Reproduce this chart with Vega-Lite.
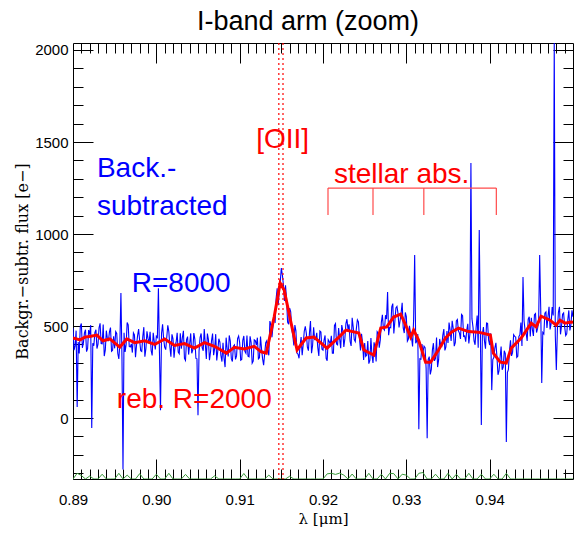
{
"$schema":"https://vega.github.io/schema/vega-lite/v6.json",
"width":500,"height":436,
"autosize":{"type":"none"},
"padding":{"left":73,"top":43,"right":1,"bottom":54},
"background":"white",
"title":{"text":"I-band arm (zoom)","font":"Liberation Sans","fontSize":27,"fontWeight":"normal","color":"#000","anchor":"middle","dx":-15,"baseline":"alphabetic","offset":-15},
"config":{"view":{"stroke":"#000","strokeWidth":1},"axis":{"grid":false,"domain":false,"tickColor":"#000","tickWidth":1,"labelColor":"#000","labelFont":"Liberation Sans","labelFontSize":15,"titleColor":"#000","titleFontWeight":"normal"}},
"datasets":{
"blue":[{"x":0.89,"f":490},{"x":0.89025,"f":392},{"x":0.8905,"f":60},{"x":0.89075,"f":351},{"x":0.891,"f":514},{"x":0.89125,"f":410},{"x":0.8915,"f":480},{"x":0.89175,"f":377},{"x":0.892,"f":454},{"x":0.89225,"f":-54},{"x":0.8925,"f":393},{"x":0.89275,"f":480},{"x":0.893,"f":401},{"x":0.89325,"f":515},{"x":0.8935,"f":404},{"x":0.89375,"f":337},{"x":0.894,"f":475},{"x":0.89425,"f":418},{"x":0.8945,"f":492},{"x":0.89475,"f":368},
{"x":0.895,"f":379},{"x":0.89525,"f":460},{"x":0.8955,"f":321},{"x":0.89575,"f":680},{"x":0.896,"f":-280},{"x":0.89625,"f":359},{"x":0.8965,"f":519},{"x":0.89675,"f":389},{"x":0.897,"f":403},{"x":0.89725,"f":463},{"x":0.8975,"f":331},{"x":0.89775,"f":448},{"x":0.898,"f":420},{"x":0.89825,"f":362},{"x":0.8985,"f":494},{"x":0.89875,"f":378},{"x":0.899,"f":433},{"x":0.89925,"f":469},{"x":0.8995,"f":340},{"x":0.89975,"f":416},
{"x":0.9,"f":445},{"x":0.90025,"f":706},{"x":0.9005,"f":43},{"x":0.90075,"f":509},{"x":0.901,"f":385},{"x":0.90125,"f":438},{"x":0.9015,"f":470},{"x":0.90175,"f":333},{"x":0.902,"f":431},{"x":0.90225,"f":390},{"x":0.9025,"f":463},{"x":0.90275,"f":350},{"x":0.903,"f":377},{"x":0.90325,"f":474},{"x":0.9035,"f":313},{"x":0.90375,"f":443},{"x":0.904,"f":402},{"x":0.90425,"f":352},{"x":0.9045,"f":462},{"x":0.90475,"f":324},
{"x":0.905,"f":16},{"x":0.90525,"f":437},{"x":0.9055,"f":383},{"x":0.90575,"f":484},{"x":0.906,"f":321},{"x":0.90625,"f":427},{"x":0.9065,"f":358},{"x":0.90675,"f":459},{"x":0.907,"f":379},{"x":0.90725,"f":313},{"x":0.9075,"f":431},{"x":0.90775,"f":340},{"x":0.908,"f":409},{"x":0.90825,"f":277},{"x":0.9085,"f":376},{"x":0.90875,"f":449},{"x":0.909,"f":323},{"x":0.90925,"f":391},{"x":0.9095,"f":319},{"x":0.90975,"f":432},
{"x":0.91,"f":410},{"x":0.91025,"f":318},{"x":0.9105,"f":446},{"x":0.91075,"f":352},{"x":0.911,"f":336},{"x":0.91125,"f":444},{"x":0.9115,"f":298},{"x":0.91175,"f":425},{"x":0.912,"f":396},{"x":0.91225,"f":322},{"x":0.9125,"f":443},{"x":0.91275,"f":323},{"x":0.913,"f":350},{"x":0.91325,"f":420},{"x":0.9135,"f":341},{"x":0.91375,"f":508},{"x":0.914,"f":500},{"x":0.91425,"f":517},{"x":0.9145,"f":705},{"x":0.91475,"f":690},
{"x":0.915,"f":815},{"x":0.91525,"f":723},{"x":0.9155,"f":721},{"x":0.91575,"f":522},{"x":0.916,"f":598},{"x":0.91625,"f":485},{"x":0.9165,"f":395},{"x":0.91675,"f":474},{"x":0.917,"f":347},{"x":0.91725,"f":397},{"x":0.9175,"f":342},{"x":0.91775,"f":472},{"x":0.918,"f":460},{"x":0.91825,"f":366},{"x":0.9185,"f":527},{"x":0.91875,"f":394},{"x":0.919,"f":427},{"x":0.91925,"f":463},{"x":0.9195,"f":338},{"x":0.91975,"f":468},
{"x":0.92,"f":369},{"x":0.92025,"f":449},{"x":0.9205,"f":311},{"x":0.92075,"f":416},{"x":0.921,"f":447},{"x":0.92125,"f":352},{"x":0.9215,"f":513},{"x":0.92175,"f":398},{"x":0.922,"f":429},{"x":0.92225,"f":505},{"x":0.9225,"f":387},{"x":0.92275,"f":513},{"x":0.923,"f":480},{"x":0.92325,"f":418},{"x":0.9235,"f":545},{"x":0.92375,"f":427},{"x":0.924,"f":485},{"x":0.92425,"f":523},{"x":0.9245,"f":367},{"x":0.92475,"f":408},
{"x":0.925,"f":408},{"x":0.92525,"f":342},{"x":0.9255,"f":296},{"x":0.92575,"f":435},{"x":0.926,"f":299},{"x":0.92625,"f":385},{"x":0.9265,"f":469},{"x":0.92675,"f":383},{"x":0.927,"f":520},{"x":0.92725,"f":487},{"x":0.9275,"f":559},{"x":0.92775,"f":685},{"x":0.928,"f":493},{"x":0.92825,"f":604},{"x":0.9285,"f":460},{"x":0.92875,"f":599},{"x":0.929,"f":569},{"x":0.92925,"f":529},{"x":0.9295,"f":627},{"x":0.92975,"f":462},
{"x":0.93,"f":551},{"x":0.93025,"f":429},{"x":0.9305,"f":462},{"x":0.93075,"f":389},{"x":0.931,"f":886},{"x":0.93125,"f":419},{"x":0.9315,"f":-60},{"x":0.93175,"f":320},{"x":0.932,"f":359},{"x":0.93225,"f":383},{"x":0.9325,"f":-110},{"x":0.93275,"f":334},{"x":0.933,"f":265},{"x":0.93325,"f":407},{"x":0.9335,"f":324},{"x":0.93375,"f":277},{"x":0.934,"f":430},{"x":0.93425,"f":390},{"x":0.9345,"f":484},{"x":0.93475,"f":387},
{"x":0.935,"f":408},{"x":0.93525,"f":479},{"x":0.9355,"f":529},{"x":0.93575,"f":391},{"x":0.936,"f":528},{"x":0.93625,"f":474},{"x":0.9365,"f":430},{"x":0.93675,"f":556},{"x":0.937,"f":447},{"x":0.93725,"f":478},{"x":0.9375,"f":405},{"x":0.93775,"f":1386},{"x":0.938,"f":494},{"x":0.93825,"f":398},{"x":0.9385,"f":557},{"x":0.93875,"f":1022},{"x":0.939,"f":-38},{"x":0.93925,"f":495},{"x":0.9395,"f":377},{"x":0.93975,"f":514},
{"x":0.94,"f":397},{"x":0.94025,"f":152},{"x":0.9405,"f":329},{"x":0.94075,"f":409},{"x":0.941,"f":235},{"x":0.94125,"f":330},{"x":0.9415,"f":263},{"x":0.94175,"f":366},{"x":0.942,"f":-130},{"x":0.94225,"f":264},{"x":0.9425,"f":423},{"x":0.94275,"f":357},{"x":0.943,"f":444},{"x":0.94325,"f":330},{"x":0.9435,"f":442},{"x":0.94375,"f":519},{"x":0.944,"f":766},{"x":0.94425,"f":477},{"x":0.9445,"f":419},{"x":0.94475,"f":551},
{"x":0.945,"f":545},{"x":0.94525,"f":446},{"x":0.9455,"f":568},{"x":0.94575,"f":487},{"x":0.946,"f":886},{"x":0.94625,"f":190},{"x":0.9465,"f":457},{"x":0.94675,"f":577},{"x":0.947,"f":552},{"x":0.94725,"f":482},{"x":0.9475,"f":603},{"x":0.94775,"f":2038},{"x":0.948,"f":261},{"x":0.94825,"f":575},{"x":0.9485,"f":455},{"x":0.94875,"f":564},{"x":0.949,"f":497},{"x":0.94925,"f":458},{"x":0.9495,"f":585},{"x":0.94975,"f":507},{"x":0.95,"f":550},
{"x":0.890125,"f":369},{"x":0.890375,"f":475},{"x":0.890625,"f":413},{"x":0.890875,"f":498},{"x":0.891125,"f":382},{"x":0.891375,"f":463},{"x":0.891625,"f":361},{"x":0.891875,"f":478},{"x":0.892125,"f":505},{"x":0.892375,"f":407},{"x":0.892625,"f":464},{"x":0.892875,"f":378},{"x":0.893125,"f":491},{"x":0.893375,"f":405},{"x":0.893625,"f":508},{"x":0.893875,"f":369},{"x":0.894125,"f":432},{"x":0.894375,"f":468},{"x":0.894625,"f":363},{"x":0.894875,"f":444},
{"x":0.895125,"f":470},{"x":0.895375,"f":351},{"x":0.895625,"f":407},{"x":0.895875,"f":330},{"x":0.896125,"f":463},{"x":0.896375,"f":399},{"x":0.896625,"f":507},{"x":0.896875,"f":386},{"x":0.897125,"f":356},{"x":0.897375,"f":452},{"x":0.897625,"f":397},{"x":0.897875,"f":484},{"x":0.898125,"f":366},{"x":0.898375,"f":443},{"x":0.898625,"f":334},{"x":0.898875,"f":471},{"x":0.899125,"f":406},{"x":0.899375,"f":367},{"x":0.899625,"f":463},{"x":0.899875,"f":373},
{"x":0.900125,"f":438},{"x":0.900375,"f":355},{"x":0.900625,"f":461},{"x":0.900875,"f":432},{"x":0.901125,"f":372},{"x":0.901375,"f":504},{"x":0.901625,"f":387},{"x":0.901875,"f":455},{"x":0.902125,"f":328},{"x":0.902375,"f":412},{"x":0.902625,"f":359},{"x":0.902875,"f":461},{"x":0.903125,"f":438},{"x":0.903375,"f":324},{"x":0.903625,"f":426},{"x":0.903875,"f":345},{"x":0.904125,"f":460},{"x":0.904375,"f":370},{"x":0.904625,"f":428},{"x":0.904875,"f":322},
{"x":0.905125,"f":364},{"x":0.905375,"f":460},{"x":0.905625,"f":366},{"x":0.905875,"f":403},{"x":0.906125,"f":459},{"x":0.906375,"f":315},{"x":0.906625,"f":421},{"x":0.906875,"f":342},{"x":0.907125,"f":456},{"x":0.907375,"f":365},{"x":0.907625,"f":413},{"x":0.907875,"f":307},{"x":0.908125,"f":326},{"x":0.908375,"f":437},{"x":0.908625,"f":335},{"x":0.908875,"f":419},{"x":0.909125,"f":307},{"x":0.909375,"f":398},{"x":0.909625,"f":338},{"x":0.909875,"f":446},
{"x":0.910125,"f":314},{"x":0.910375,"f":422},{"x":0.910625,"f":362},{"x":0.910875,"f":449},{"x":0.911125,"f":333},{"x":0.911375,"f":411},{"x":0.911625,"f":309},{"x":0.911875,"f":421},{"x":0.912125,"f":437},{"x":0.912375,"f":328},{"x":0.912625,"f":376},{"x":0.912875,"f":287},{"x":0.913125,"f":410},{"x":0.913375,"f":366},{"x":0.913625,"f":527},{"x":0.913875,"f":439},{"x":0.914125,"f":554},{"x":0.914375,"f":649},{"x":0.914625,"f":613},{"x":0.914875,"f":744},
{"x":0.915125,"f":778},{"x":0.915375,"f":637},{"x":0.915625,"f":649},{"x":0.915875,"f":510},{"x":0.916125,"f":577},{"x":0.916375,"f":450},{"x":0.916625,"f":505},{"x":0.916875,"f":353},{"x":0.917125,"f":325},{"x":0.917375,"f":440},{"x":0.917625,"f":400},{"x":0.917875,"f":499},{"x":0.918125,"f":386},{"x":0.918375,"f":462},{"x":0.918625,"f":353},{"x":0.918875,"f":493},{"x":0.919125,"f":428},{"x":0.919375,"f":383},{"x":0.919625,"f":473},{"x":0.919875,"f":374},
{"x":0.920125,"f":424},{"x":0.920375,"f":325},{"x":0.920625,"f":426},{"x":0.920875,"f":402},{"x":0.921125,"f":352},{"x":0.921375,"f":503},{"x":0.921625,"f":403},{"x":0.921875,"f":489},{"x":0.922125,"f":380},{"x":0.922375,"f":476},{"x":0.922625,"f":433},{"x":0.922875,"f":537},{"x":0.923125,"f":509},{"x":0.923375,"f":392},{"x":0.923625,"f":494},{"x":0.923875,"f":416},{"x":0.924125,"f":534},{"x":0.924375,"f":433},{"x":0.924625,"f":458},{"x":0.924875,"f":316},
{"x":0.925125,"f":335},{"x":0.925375,"f":419},{"x":0.925625,"f":313},{"x":0.925875,"f":342},{"x":0.926125,"f":412},{"x":0.926375,"f":307},{"x":0.926625,"f":461},{"x":0.926875,"f":424},{"x":0.927125,"f":561},{"x":0.927375,"f":478},{"x":0.927625,"f":538},{"x":0.927875,"f":450},{"x":0.928125,"f":491},{"x":0.928375,"f":622},{"x":0.928625,"f":527},{"x":0.928875,"f":607},{"x":0.929125,"f":492},{"x":0.929375,"f":571},{"x":0.929625,"f":490},{"x":0.929875,"f":574},
{"x":0.930125,"f":418},{"x":0.930375,"f":501},{"x":0.930625,"f":438},{"x":0.930875,"f":537},{"x":0.931125,"f":407},{"x":0.931375,"f":457},{"x":0.931625,"f":322},{"x":0.931875,"f":402},{"x":0.932125,"f":391},{"x":0.932375,"f":269},{"x":0.932625,"f":319},{"x":0.932875,"f":237},{"x":0.933125,"f":369},{"x":0.933375,"f":311},{"x":0.933625,"f":438},{"x":0.933875,"f":316},{"x":0.934125,"f":395},{"x":0.934375,"f":450},{"x":0.934625,"f":368},{"x":0.934875,"f":473},
{"x":0.935125,"f":519},{"x":0.935375,"f":419},{"x":0.935625,"f":488},{"x":0.935875,"f":410},{"x":0.936125,"f":536},{"x":0.936375,"f":462},{"x":0.936625,"f":563},{"x":0.936875,"f":444},{"x":0.937125,"f":415},{"x":0.937375,"f":512},{"x":0.937625,"f":455},{"x":0.937875,"f":539},{"x":0.938125,"f":419},{"x":0.938375,"f":493},{"x":0.938625,"f":382},{"x":0.938875,"f":520},{"x":0.939125,"f":457},{"x":0.939375,"f":419},{"x":0.939625,"f":516},{"x":0.939875,"f":423},
{"x":0.940125,"f":460},{"x":0.940375,"f":318},{"x":0.940625,"f":382},{"x":0.940875,"f":332},{"x":0.941125,"f":258},{"x":0.941375,"f":389},{"x":0.941625,"f":277},{"x":0.941875,"f":351},{"x":0.942125,"f":247},{"x":0.942375,"f":366},{"x":0.942625,"f":338},{"x":0.942875,"f":453},{"x":0.943125,"f":440},{"x":0.943375,"f":336},{"x":0.943625,"f":453},{"x":0.943875,"f":392},{"x":0.944125,"f":529},{"x":0.944375,"f":461},{"x":0.944625,"f":538},{"x":0.944875,"f":443},
{"x":0.945125,"f":481},{"x":0.945375,"f":562},{"x":0.945625,"f":465},{"x":0.945875,"f":520},{"x":0.946125,"f":600},{"x":0.946375,"f":465},{"x":0.946625,"f":570},{"x":0.946875,"f":490},{"x":0.947125,"f":605},{"x":0.947375,"f":513},{"x":0.947625,"f":558},{"x":0.947875,"f":450},{"x":0.948125,"f":478},{"x":0.948375,"f":605},{"x":0.948625,"f":502},{"x":0.948875,"f":571},{"x":0.949125,"f":448},{"x":0.949375,"f":534},{"x":0.949625,"f":476},{"x":0.949875,"f":586}],
"red":[{"x":0.89,"f":435},{"x":0.89084,"f":425},{"x":0.89143,"f":440},{"x":0.89215,"f":445},{"x":0.89287,"f":451},{"x":0.89359,"f":420},{"x":0.89442,"f":430},{"x":0.89562,"f":386},{"x":0.89645,"f":430},{"x":0.89741,"f":410},{"x":0.89861,"f":420},{"x":0.8998,"f":400},{"x":0.901,"f":430},{"x":0.90219,"f":395},{"x":0.90339,"f":405},{"x":0.90458,"f":380},{"x":0.90578,"f":410},{"x":0.90697,"f":390},{"x":0.90841,"f":353},{"x":0.90936,"f":385},{"x":0.91056,"f":375},{"x":0.91175,"f":390},{"x":0.91259,"f":360},{"x":0.91319,"f":353},{"x":0.91414,"f":549},{"x":0.91486,"f":734},{"x":0.91534,"f":696},{"x":0.91617,"f":516},{"x":0.91689,"f":370},{"x":0.91797,"f":435},{"x":0.91892,"f":440},{"x":0.92048,"f":380},{"x":0.92191,"f":440},{"x":0.92275,"f":478},{"x":0.9243,"f":462},{"x":0.9249,"f":370},{"x":0.92609,"f":342},{"x":0.92693,"f":489},{"x":0.92765,"f":495},{"x":0.92848,"f":549},{"x":0.92932,"f":565},{"x":0.92992,"f":505},{"x":0.93052,"f":440},{"x":0.93088,"f":478},{"x":0.93147,"f":424},{"x":0.93231,"f":304},{"x":0.93291,"f":304},{"x":0.93386,"f":370},{"x":0.9347,"f":435},{"x":0.93542,"f":467},{"x":0.93625,"f":489},{"x":0.93745,"f":470},{"x":0.93864,"f":467},{"x":0.94008,"f":451},{"x":0.94044,"f":353},{"x":0.94127,"f":304},{"x":0.94199,"f":299},{"x":0.94259,"f":380},{"x":0.94378,"f":435},{"x":0.94498,"f":516},{"x":0.94558,"f":495},{"x":0.94617,"f":554},{"x":0.94725,"f":532},{"x":0.94797,"f":505},{"x":0.94844,"f":532},{"x":0.94904,"f":516},{"x":0.94976,"f":522},{"x":0.95,"f":520}],
"green":[{"x":0.89,"f":-331},{"x":0.8905,"f":-300},{"x":0.891,"f":-312},{"x":0.8915,"f":-331},{"x":0.892,"f":-315},{"x":0.8925,"f":-331},{"x":0.893,"f":-331},{"x":0.8935,"f":-305},{"x":0.894,"f":-331},{"x":0.8945,"f":-331},{"x":0.895,"f":-331},{"x":0.8955,"f":-300},{"x":0.896,"f":-331},{"x":0.8965,"f":-310},{"x":0.897,"f":-331},{"x":0.8975,"f":-331},{"x":0.898,"f":-302},{"x":0.8985,"f":-331},{"x":0.899,"f":-331},{"x":0.8995,"f":-331},{"x":0.9,"f":-305},{"x":0.9005,"f":-331},{"x":0.901,"f":-331},{"x":0.9015,"f":-300},{"x":0.902,"f":-331},{"x":0.9025,"f":-331},{"x":0.903,"f":-331},{"x":0.9035,"f":-306},{"x":0.904,"f":-331},{"x":0.9045,"f":-331},{"x":0.905,"f":-331},{"x":0.9055,"f":-331},{"x":0.906,"f":-331},{"x":0.9065,"f":-331},{"x":0.907,"f":-314},{"x":0.9075,"f":-331},{"x":0.908,"f":-331},{"x":0.9085,"f":-331},{"x":0.909,"f":-331},{"x":0.9095,"f":-331},{"x":0.91,"f":-331},{"x":0.9105,"f":-301},{"x":0.911,"f":-331},{"x":0.9115,"f":-331},{"x":0.912,"f":-331},{"x":0.9125,"f":-331},{"x":0.913,"f":-331},{"x":0.9135,"f":-310},{"x":0.914,"f":-331},{"x":0.9145,"f":-331},{"x":0.915,"f":-331},{"x":0.9155,"f":-331},{"x":0.916,"f":-316},{"x":0.9165,"f":-331},{"x":0.917,"f":-331},{"x":0.9175,"f":-331},{"x":0.918,"f":-331},{"x":0.9185,"f":-331},{"x":0.919,"f":-331},{"x":0.9195,"f":-331},{"x":0.92,"f":-331},{"x":0.9205,"f":-303},{"x":0.921,"f":-300},{"x":0.9215,"f":-306},{"x":0.922,"f":-299},{"x":0.9225,"f":-310},{"x":0.923,"f":-331},{"x":0.9235,"f":-304},{"x":0.924,"f":-331},{"x":0.9245,"f":-331},{"x":0.925,"f":-331},{"x":0.9255,"f":-300},{"x":0.926,"f":-331},{"x":0.9265,"f":-331},{"x":0.927,"f":-305},{"x":0.9275,"f":-331},{"x":0.928,"f":-300},{"x":0.9285,"f":-302},{"x":0.929,"f":-331},{"x":0.9295,"f":-305},{"x":0.93,"f":-310},{"x":0.9305,"f":-331},{"x":0.931,"f":-331},{"x":0.9315,"f":-300},{"x":0.932,"f":-296},{"x":0.9325,"f":-331},{"x":0.933,"f":-331},{"x":0.9335,"f":-305},{"x":0.934,"f":-331},{"x":0.9345,"f":-331},{"x":0.935,"f":-300},{"x":0.9355,"f":-331},{"x":0.936,"f":-305},{"x":0.9365,"f":-331},{"x":0.937,"f":-331},{"x":0.9375,"f":-300},{"x":0.938,"f":-331},{"x":0.9385,"f":-331},{"x":0.939,"f":-305},{"x":0.9395,"f":-331},{"x":0.94,"f":-331},{"x":0.9405,"f":-305},{"x":0.941,"f":-331},{"x":0.9415,"f":-331},{"x":0.942,"f":-300},{"x":0.9425,"f":-331},{"x":0.943,"f":-331},{"x":0.9435,"f":-331},{"x":0.944,"f":-331},{"x":0.9445,"f":-331},{"x":0.945,"f":-331},{"x":0.9455,"f":-331},{"x":0.946,"f":-331},{"x":0.9465,"f":-331},{"x":0.947,"f":-331},{"x":0.9475,"f":-331},{"x":0.948,"f":-331},{"x":0.9485,"f":-331},{"x":0.949,"f":-331},{"x":0.9495,"f":-331},{"x":0.95,"f":-331}],
"oii":[{"x":0.9147},{"x":0.9152}],
"bracket":[{"x":0.9206,"x2":0.9408,"f":1250,"f2":1250},{"x":0.9206,"x2":0.9206,"f":1103,"f2":1250},{"x":0.926,"x2":0.926,"f":1103,"f2":1250},{"x":0.9321,"x2":0.9321,"f":1103,"f2":1250},{"x":0.9408,"x2":0.9408,"f":1103,"f2":1250}],
"bluetext":[{"x":0.89287,"f":1310,"label":"Back.-"},{"x":0.89287,"f":1103,"label":"subtracted"},{"x":0.89705,"f":685,"label":"R=8000"}],
"redtext":[{"x":0.91199,"f":1467,"label":"[OII]"},{"x":0.92131,"f":1277,"label":"stellar abs."},{"x":0.89526,"f":54,"label":"reb. R=2000"}]
},
"resolve":{"axis":{"x":"independent","y":"independent"}},
"layer":[
{"data":{"name":"green"},"mark":{"type":"line","color":"#3a9a3a","strokeWidth":1,"clip":true},
 "encoding":{"x":{"field":"x","type":"quantitative","scale":{"domain":[0.89,0.95],"nice":false,"zero":false},
   "axis":{"orient":"bottom","values":[0.89,0.9,0.91,0.92,0.93,0.94],"format":".2f","tickSize":-20,"labelPadding":33,"labelFlush":false,"labelOverlap":false,"title":"λ [μm]","titleFont":"DejaVu Serif","titleFontSize":15,"titleY":44,"titleBaseline":"alphabetic"}},
  "y":{"field":"f","type":"quantitative","scale":{"domain":[-331,2038],"nice":false,"zero":false},
   "axis":{"orient":"left","values":[0,500,1000,1500,2000],"format":"d","tickSize":-20,"labelPadding":25,"labelFlush":false,"title":"Backgr.−subtr. flux [e−]","titleFont":"DejaVu Serif","titleFontSize":16,"titleX":-51,"titleY":218,"titleAngle":-90,"titleAlign":"center","titleBaseline":"middle"}}}},
{"data":{"name":"blue"},"mark":{"type":"line","color":"#0000ff","strokeWidth":1.1,"clip":true},
 "encoding":{"x":{"field":"x","type":"quantitative","axis":{"orient":"bottom","values":[0.891,0.892,0.893,0.894,0.895,0.896,0.897,0.898,0.899,0.901,0.902,0.903,0.904,0.905,0.906,0.907,0.908,0.909,0.911,0.912,0.913,0.914,0.915,0.916,0.917,0.918,0.919,0.921,0.922,0.923,0.924,0.925,0.926,0.927,0.928,0.929,0.931,0.932,0.933,0.934,0.935,0.936,0.937,0.938,0.939,0.941,0.942,0.943,0.944,0.945,0.946,0.947,0.948,0.949],"tickSize":-10,"labels":false,"title":null}},
  "y":{"field":"f","type":"quantitative","axis":{"orient":"left","values":[-300,-200,-100,100,200,300,400,600,700,800,900,1100,1200,1300,1400,1600,1700,1800,1900],"tickSize":-10,"labels":false,"title":null}}}},
{"data":{"name":"red"},"mark":{"type":"line","color":"#ff0000","strokeWidth":3,"clip":true},
 "encoding":{"x":{"field":"x","type":"quantitative","axis":{"orient":"top","values":[0.9,0.91,0.92,0.93,0.94],"tickSize":-20,"labels":false,"title":null}},
  "y":{"field":"f","type":"quantitative","axis":{"orient":"right","values":[0,500,1000,1500,2000],"tickSize":-20,"labels":false,"title":null}}}},
{"data":{"name":"oii"},"mark":{"type":"rule","color":"#ff0000","strokeWidth":1.2,"strokeDash":[2,3]},
 "encoding":{"x":{"field":"x","type":"quantitative","axis":{"orient":"top","values":[0.891,0.892,0.893,0.894,0.895,0.896,0.897,0.898,0.899,0.901,0.902,0.903,0.904,0.905,0.906,0.907,0.908,0.909,0.911,0.912,0.913,0.914,0.915,0.916,0.917,0.918,0.919,0.921,0.922,0.923,0.924,0.925,0.926,0.927,0.928,0.929,0.931,0.932,0.933,0.934,0.935,0.936,0.937,0.938,0.939,0.941,0.942,0.943,0.944,0.945,0.946,0.947,0.948,0.949],"tickSize":-10,"labels":false,"title":null}}}},
{"data":{"name":"oii"},"mark":{"type":"point","opacity":0},
 "encoding":{"x":{"field":"x","type":"quantitative","axis":null},
  "y":{"datum":0,"type":"quantitative","axis":{"orient":"right","values":[-300,-200,-100,100,200,300,400,600,700,800,900,1100,1200,1300,1400,1600,1700,1800,1900],"tickSize":-10,"labels":false,"title":null}}}},
{"data":{"name":"bracket"},"mark":{"type":"rule","color":"#ff4a4a","strokeWidth":1.2},
 "encoding":{"x":{"field":"x","type":"quantitative","axis":null},"x2":{"field":"x2"},"y":{"field":"f","type":"quantitative","axis":null},"y2":{"field":"f2"}}},
{"data":{"name":"bluetext"},"mark":{"type":"text","align":"left","baseline":"alphabetic","font":"Liberation Sans","fontSize":28,"color":"#0000ff"},
 "encoding":{"x":{"field":"x","type":"quantitative","axis":null},"y":{"field":"f","type":"quantitative","axis":null},"text":{"field":"label"}}},
{"data":{"name":"redtext"},"mark":{"type":"text","align":"left","baseline":"alphabetic","font":"Liberation Sans","fontSize":28,"color":"#ff0000"},
 "encoding":{"x":{"field":"x","type":"quantitative","axis":null},"y":{"field":"f","type":"quantitative","axis":null},"text":{"field":"label"}}}
]
}
